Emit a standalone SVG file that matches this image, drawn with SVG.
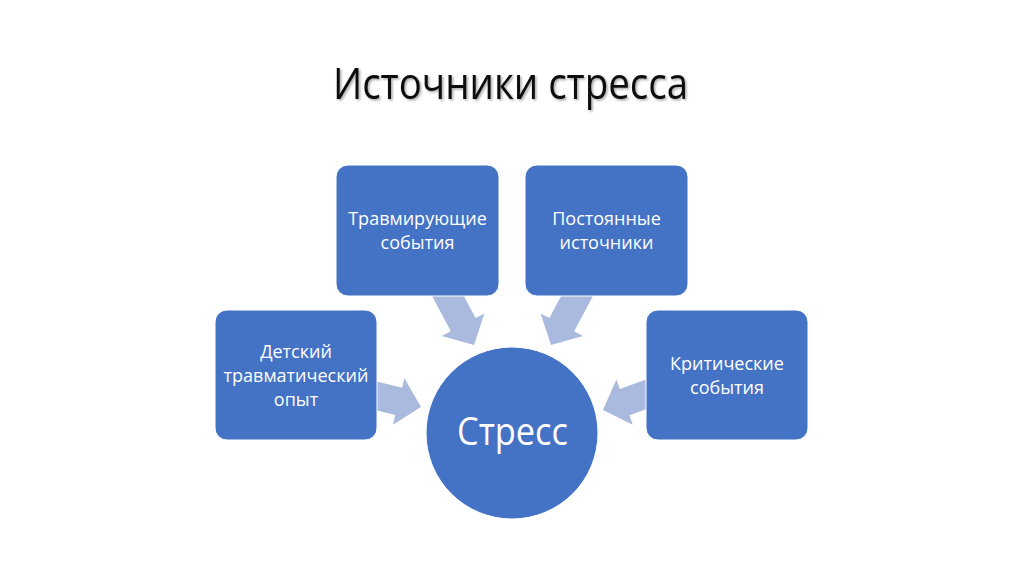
<svg xmlns="http://www.w3.org/2000/svg" width="1024" height="574" viewBox="0 0 1024 574">
  <defs>
    <style>
      .box { fill: #4472C4; stroke: #ffffff; stroke-width: 1; }
      .arrow { fill: #AAB9DE; }
      .lbl { font-family: "Open Sans", "Liberation Sans", sans-serif; font-size: 18px; fill: #ffffff; text-anchor: middle; }
      .big { font-family: "Open Sans", "Liberation Sans", sans-serif; font-size: 38px; fill: #ffffff; text-anchor: middle; }
      .title { font-family: "Open Sans", "Liberation Sans", sans-serif; font-size: 44px; fill: #111111; text-anchor: middle; }
    </style>
    <path id="arr" d="M0,0 L-23,-24 L-23,-14 L-70,-14 L-70,14 L-23,14 L-23,24 Z"/>
    <filter id="sh" x="-10%" y="-30%" width="120%" height="160%">
      <feDropShadow dx="1.5" dy="1.5" stdDeviation="1.2" flood-color="#000" flood-opacity="0.35"/>
    </filter>
  </defs>
  <rect width="1024" height="574" fill="#ffffff"/>
  <text class="title" x="510.5" y="99" textLength="355" lengthAdjust="spacingAndGlyphs" filter="url(#sh)">Источники стресса</text>

  <g id="connectors">
    <use href="#arr" class="arrow" transform="translate(421,407) rotate(14)"/>
    <use href="#arr" class="arrow" transform="translate(474,345) rotate(62)"/>
    <use href="#arr" class="arrow" transform="translate(551,345) rotate(118)"/>
    <use href="#arr" class="arrow" transform="translate(603,410) rotate(160)"/>
  </g>

  <g id="node-travm">
    <rect class="box" x="336" y="165" width="163" height="131" rx="12"/>
    <text class="lbl" x="417.5" y="225">Травмирующие</text>
    <text class="lbl" x="417.5" y="249">события</text>
  </g>
  <g id="node-post">
    <rect class="box" x="525" y="165" width="163" height="131" rx="12"/>
    <text class="lbl" x="606.5" y="225">Постоянные</text>
    <text class="lbl" x="606.5" y="249">источники</text>
  </g>
  <g id="node-det">
    <rect class="box" x="215" y="310" width="162" height="130" rx="12"/>
    <text class="lbl" x="296" y="358">Детский</text>
    <text class="lbl" x="296" y="382">травматический</text>
    <text class="lbl" x="296" y="406">опыт</text>
  </g>
  <g id="node-krit">
    <rect class="box" x="646" y="310" width="162" height="130" rx="12"/>
    <text class="lbl" x="727" y="370">Критические</text>
    <text class="lbl" x="727" y="394">события</text>
  </g>
  <g id="node-stress">
    <circle class="box" cx="512" cy="433" r="86"/>
    <text class="big" x="512.5" y="445" textLength="111" lengthAdjust="spacingAndGlyphs">Стресс</text>
  </g>
</svg>
